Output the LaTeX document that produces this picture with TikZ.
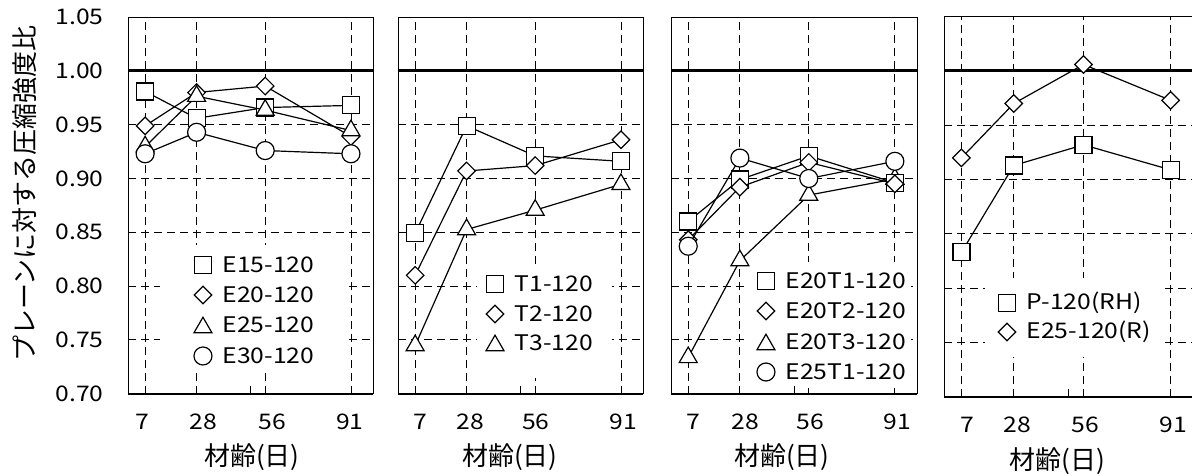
\documentclass[tikz,border=0pt]{standalone}
\usepackage{fontspec}
\setmainfont{Noto Sans CJK JP}
\newfontfamily\numfont{Noto Sans CJK JP}[FakeStretch=1.15]
\usetikzlibrary{shapes.geometric}

\tikzset{
  frame line/.style={line width=1pt},
  axis line/.style={line width=2pt},
  grid line/.style={line width=0.9pt, dash pattern=on 8pt off 5pt},
  ref line/.style={line width=3pt},
  mark base/.style={draw, fill=white, line width=1.2pt, inner sep=0pt, outer sep=0pt},
  sq/.style={mark base, rectangle, minimum size=17pt},
  dia/.style={mark base, diamond, minimum size=17.5pt},
  tri/.style={mark base, regular polygon, regular polygon sides=3, minimum size=20.8pt, yshift=-2.6pt},
  cir/.style={mark base, circle, minimum size=18pt},
  series/.style={line width=1.2pt},
  num/.style={font=\numfont\fontsize{21.5}{21.5}\selectfont, inner sep=0pt},
  jpl/.style={font=\fontsize{26}{26}\selectfont, inner sep=0pt},
}

% grid, legend backing, 1.00 line and frame of one panel
% #1,#2 = lower left and #3,#4 = upper right of the legend area
\newcommand{\panelbase}[4]{%
  \foreach \v in {0.75,0.80,0.85,0.90,0.95} \draw[grid line] (0,\v) -- (100,\v);
  \foreach \d in {7,28,56,91} \draw[grid line] (\d,0.70) -- (\d,1.05);
  \fill[white] (#1,#2) rectangle (#3,#4);
  \draw[ref line] (0,1) -- (100,1);
  \draw[frame line] (0,0.70) rectangle (100,1.05);
  \draw[axis line] (0,0.70) -- (100,0.70);
  \draw[frame line] (50,0.70) -- ++(0,8pt);
}
% day labels under a panel
\newcommand{\daylabels}[2]{%
  \foreach \d/\t [count=\i] in {#2} \node[num] (#1x\i) at (\d,0.674) {\t};
}
% one data series: #1 name, #2 marker, #3 day/value pairs
\newcommand{\series}[3]{%
  \foreach \d/\v [count=\i] in {#3} \node[#2] (#1\i) at (\d,\v) {};
  \draw[series] (#11) -- (#12) -- (#13) -- (#14);
}
% one legend row: #1 name, #2 marker, #3,#4 position, #5 text
\newcommand{\legendrow}[5]{%
  \node[#2] (#1) at (#3,#4) {};
  \node[num, anchor=west, xshift=19.5pt] (#1t) at (#3,#4) {#5};
}

\begin{document}
\begin{tikzpicture}
\useasboundingbox (0pt,0pt) rectangle (1192pt,475pt);
\node[jpl, rotate=90] (ytitle) at (25pt,281.5pt) {プレーンに対する圧縮強度比};

% E series
\begin{scope}[shift={(128pt,-671pt)}, x=2.45pt, y=1075pt]
  \panelbase{13.1}{0.720}{88.6}{0.838}
  \foreach \v [count=\i] in {0.70,0.75,0.80,0.85,0.90,0.95,1.00,1.05}
    \node[num, anchor=east] (yt\i) at (-9.9,\v) {\v};
  \daylabels{a}{5.7/7,30.8/28,58.8/56,90.6/91}
  \node[jpl] (atitle) at (50.6,0.641) {材齢(日)};
  \series{aS}{sq}{7/0.981,28/0.956,56/0.966,91/0.968}
  \series{aD}{dia}{7/0.949,28/0.980,56/0.986,91/0.939}
  \series{aT}{tri}{7/0.932,28/0.979,56/0.966,91/0.947}
  \series{aC}{cir}{7/0.923,28/0.943,56/0.926,91/0.923}
  \legendrow{aL1}{sq}{30.6}{0.8195}{E15-120}
  \legendrow{aL2}{dia}{30.6}{0.7916}{E20-120}
  \legendrow{aL3}{tri}{30.6}{0.7637}{E25-120}
  \legendrow{aL4}{cir}{30.6}{0.7349}{E30-120}
\end{scope}

% T series
\begin{scope}[shift={(398pt,-671pt)}, x=2.45pt, y=1075pt]
  \panelbase{32.2}{0.714}{87.3}{0.820}
  \daylabels{b}{9.0/7,29.4/28,56.3/56,92.0/91}
  \node[jpl] (btitle) at (45.7,0.641) {材齢(日)};
  \series{bS}{sq}{7/0.849,28/0.949,56/0.921,91/0.916}
  \series{bD}{dia}{7/0.810,28/0.907,56/0.912,91/0.936}
  \series{bT}{tri}{7/0.747,28/0.855,56/0.873,91/0.897}
  \legendrow{bL1}{sq}{39.6}{0.8019}{T1-120}
  \legendrow{bL2}{dia}{39.6}{0.7740}{T2-120}
  \legendrow{bL3}{tri}{39.6}{0.7470}{T3-120}
\end{scope}

% E-T series
\begin{scope}[shift={(671pt,-671pt)}, x=2.46pt, y=1075pt]
  \panelbase{30.1}{0.705}{97.5}{0.822}
  \daylabels{c}{8.9/7,30.1/28,56.7/56,92.1/91}
  \node[jpl] (ctitle) at (45.1,0.641) {材齢(日)};
  \series{cT}{tri}{7/0.736,28/0.826,56/0.887,91/0.902}
  \series{cS}{sq}{7/0.860,28/0.899,56/0.921,91/0.896}
  \series{cD}{dia}{7/0.843,28/0.892,56/0.915,91/0.895}
  \series{cC}{cir}{7/0.837,28/0.919,56/0.900,91/0.916}
  \legendrow{cL1}{sq}{38.6}{0.8047}{E20T1-120}
  \legendrow{cL2}{dia}{38.6}{0.7767}{E20T2-120}
  \legendrow{cL3}{tri}{38.6}{0.7479}{E20T3-120}
  \legendrow{cL4}{cir}{38.6}{0.7200}{E25T1-120}
\end{scope}

% curing series
\begin{scope}[shift={(944pt,-682pt)}, x=2.49pt, y=1086pt]
  \panelbase{16.5}{0.737}{86.7}{0.809}
  \daylabels{d}{9.4/7,29.5/28,56.8/56,92.0/91}
  \node[jpl] (dtitle) at (45.4,0.641) {材齢(日)};
  \series{dS}{sq}{7/0.833,28/0.913,56/0.932,91/0.909}
  \series{dD}{dia}{7/0.920,28/0.970,56/1.006,91/0.973}
  \legendrow{dL1}{sq}{25.3}{0.7864}{P-120(RH)}
  \legendrow{dL2}{dia}{25.3}{0.7597}{E25-120(R)}
\end{scope}
\end{tikzpicture}
\end{document}
